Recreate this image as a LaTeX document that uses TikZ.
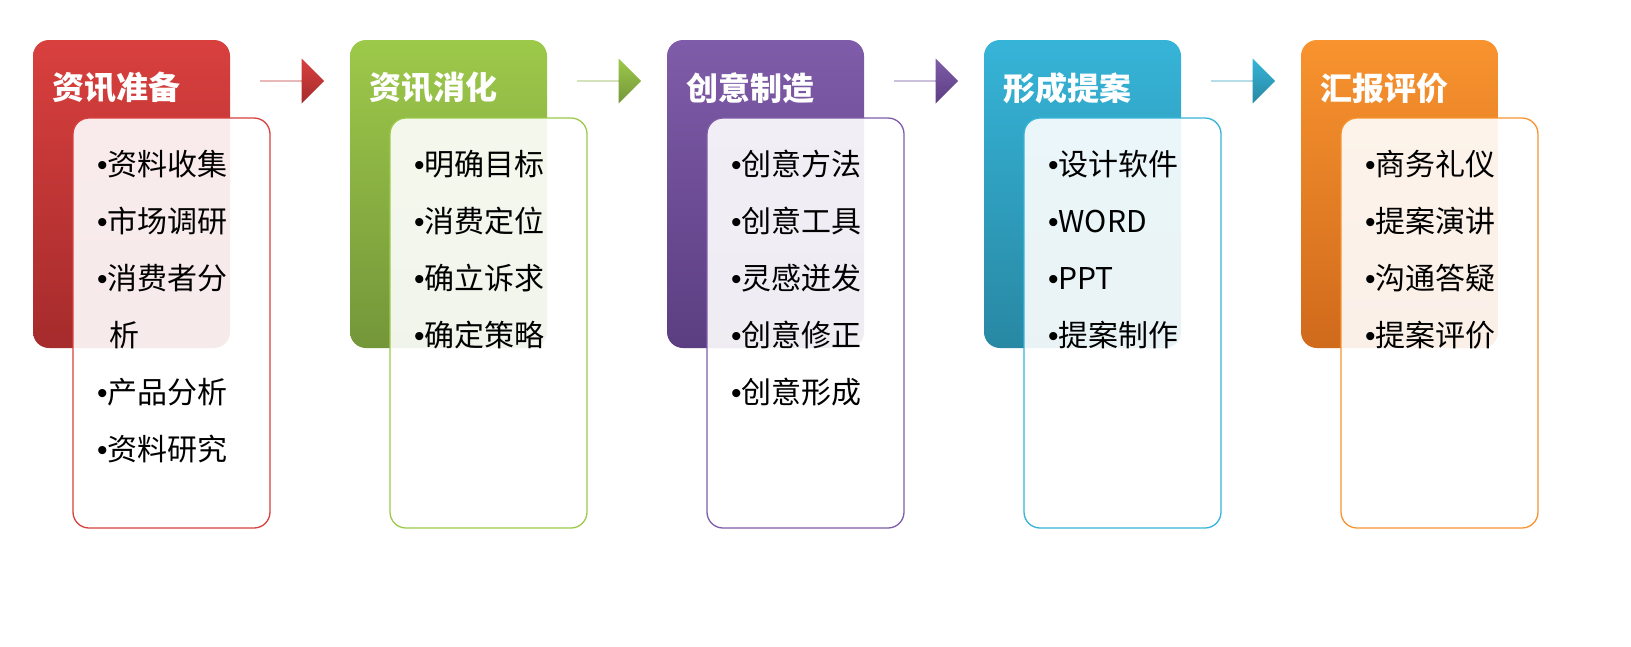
\documentclass[tikz,border=0pt]{standalone}
\usepackage{fontspec}
\setmainfont{Noto Sans CJK SC}
\newfontfamily\bfont{Liberation Sans}
\newcommand{\bu}{{\bfont •}}
\usetikzlibrary{shapes.arrows}
\definecolor{cA}{HTML}{D8403E}\definecolor{dA}{HTML}{A62B2C}
\definecolor{cB}{HTML}{9DC94A}\definecolor{dB}{HTML}{74963A}
\definecolor{cC}{HTML}{7F5CA9}\definecolor{dC}{HTML}{5B3E82}
\definecolor{cD}{HTML}{36B4D8}\definecolor{dD}{HTML}{2888A3}
\definecolor{cE}{HTML}{F8932F}\definecolor{dE}{HTML}{D06A1C}
\begin{document}
\begin{tikzpicture}[x=1pt,y=-1pt,
  head/.style={rounded corners=16pt},
  body/.style={rounded corners=16pt,line width=1.3pt,fill=white,fill opacity=0.9},
  ttl/.style={anchor=west,text=white,font=\fontsize{32}{34}\selectfont\bfseries},
  items/.style={anchor=north west,align=left,inner sep=0pt,font=\fontsize{30}{57}\selectfont},
  arr/.style={single arrow,single arrow head extend=9pt,minimum height=64pt,minimum width=45pt,inner sep=0pt,anchor=west}]
\useasboundingbox (0,0) rectangle (1631,646);
\foreach \i/\c/\d/\t/\items in {
 0/cA/dA/资讯准备/{\bu{}资料收集\\\bu{}市场调研\\\bu{}消费者分\\\hspace*{12pt}析\\\bu{}产品分析\\\bu{}资料研究},
 1/cB/dB/资讯消化/{\bu{}明确目标\\\bu{}消费定位\\\bu{}确立诉求\\\bu{}确定策略},
 2/cC/dC/创意制造/{\bu{}创意方法\\\bu{}创意工具\\\bu{}灵感迸发\\\bu{}创意修正\\\bu{}创意形成},
 3/cD/dD/形成提案/{\bu{}设计软件\\\bu{}WORD\\\bu{}PPT\\\bu{}提案制作},
 4/cE/dE/汇报评价/{\bu{}商务礼仪\\\bu{}提案演讲\\\bu{}沟通答疑\\\bu{}提案评价}}{
  \pgfmathsetmacro\xo{33+317*\i}
  \shade[head,top color=\c,bottom color=\d] (\xo,40) rectangle ++(197,308);
  \node[ttl] (t\i) at (\xo+16,88) {\t};
  \draw[body,draw=\c] (\xo+40,118) rectangle ++(197,410);
  \node[items,fill opacity=1] (l\i) at (\xo+64,150) {\items};
}
\foreach \i/\c/\d in {0/cA/dA,1/cB/dB,2/cC/dC,3/cD/dD}{
  \pgfmathsetmacro\xa{260+317*\i}
  \node[arr,top color=\c,bottom color=\d,shading angle=0] (a\i) at (\xa,81) {};
}
\end{tikzpicture}
\end{document}
